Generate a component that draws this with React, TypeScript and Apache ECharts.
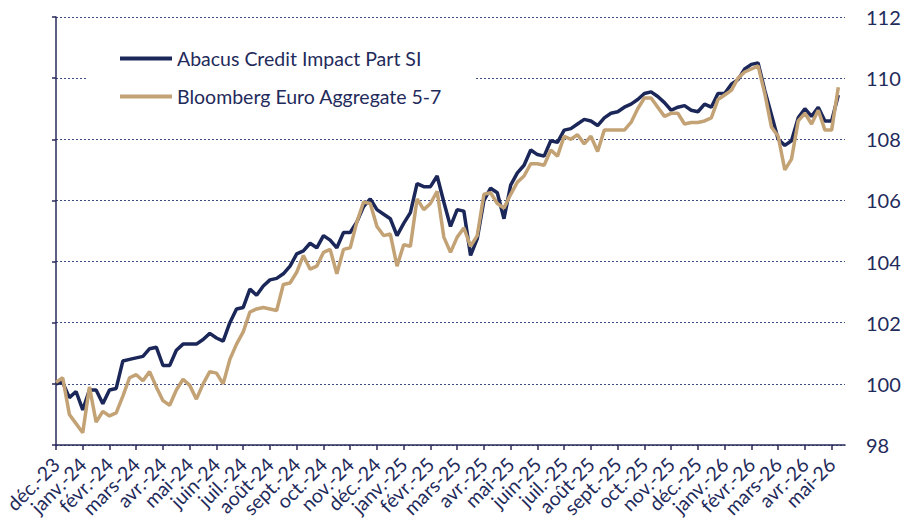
import React, { useEffect, useRef } from "react";
import * as echarts from "echarts";

const monthLabels = [
  "déc.-23", "janv.-24", "févr.-24", "mars-24", "avr.-24", "mai-24", "juin-24", "juil.-24",
  "août-24", "sept.-24", "oct.-24", "nov.-24", "déc.-24", "janv.-25", "févr.-25", "mars-25",
  "avr.-25", "mai-25", "juin-25", "juil.-25", "août-25", "sept.-25", "oct.-25", "nov.-25",
  "déc.-25", "janv.-26", "févr.-26", "mars-26", "avr.-26", "mai-26",
];

const yTicks = [98, 100, 102, 104, 106, 108, 110, 112];

// weekly samples (step = 0.25 month from déc.-23)
const STEP = 0.25;

const abacus = [
  100.0, 100.05, 99.55, 99.75, 99.15, 99.8, 99.8, 99.35, 99.8, 99.85,
  100.75, 100.8, 100.85, 100.9, 101.15, 101.2, 100.6, 100.6, 101.1, 101.3,
  101.3, 101.3, 101.45, 101.65, 101.5, 101.4, 102.0, 102.45, 102.5, 103.1,
  102.9, 103.2, 103.4, 103.45, 103.6, 103.85, 104.25, 104.35, 104.6, 104.45,
  104.85, 104.7, 104.45, 104.95, 104.95, 105.3, 105.8, 106.05, 105.7, 105.55,
  105.4, 104.85, 105.25, 105.6, 106.55, 106.45, 106.45, 106.8, 105.95, 105.15,
  105.7, 105.65, 104.2, 104.75, 106.0, 106.4, 106.25, 105.4, 106.5, 106.9,
  107.15, 107.65, 107.5, 107.45, 107.95, 107.9, 108.3, 108.35, 108.5, 108.65,
  108.6, 108.45, 108.7, 108.85, 108.9, 109.05, 109.15, 109.3, 109.5, 109.55,
  109.4, 109.2, 108.95, 109.05, 109.1, 108.95, 108.9, 109.15, 109.05, 109.5,
  109.5, 109.8, 109.95, 110.3, 110.45, 110.5, 109.6, 108.8, 108.0, 107.8,
  107.95, 108.7, 109.0, 108.75, 109.05, 108.6, 108.6, 109.45,
];

const bloomberg = [
  100.05, 100.2, 99.0, 98.7, 98.4, 99.9, 98.75, 99.1, 98.95, 99.05,
  99.6, 100.2, 100.3, 100.1, 100.4, 99.9, 99.45, 99.3, 99.8, 100.15,
  99.95, 99.5, 100.0, 100.4, 100.35, 100.0, 100.8, 101.3, 101.7, 102.35,
  102.45, 102.5, 102.45, 102.4, 103.25, 103.3, 103.65, 104.2, 103.75, 103.85,
  104.3, 104.4, 103.6, 104.4, 104.45, 105.3, 105.95, 105.9, 105.15, 104.85,
  104.9, 103.85, 104.55, 104.5, 106.05, 105.7, 105.9, 106.3, 104.8, 104.3,
  104.8, 105.1, 104.5, 104.85, 106.2, 106.25, 105.9, 105.75, 106.2, 106.6,
  106.8, 107.2, 107.2, 107.15, 107.65, 107.45, 108.1, 108.0, 108.15, 107.85,
  108.1, 107.6, 108.3, 108.3, 108.3, 108.3, 108.55, 109.0, 109.35, 109.35,
  109.05, 108.75, 108.85, 108.85, 108.5, 108.55, 108.55, 108.6, 108.7, 109.3,
  109.45, 109.6, 110.0, 110.2, 110.3, 110.4, 109.5, 108.4, 108.1, 107.0,
  107.35, 108.6, 108.85, 108.5, 108.95, 108.3, 108.3, 109.7,
];

const seriesNames = ["Abacus Credit Impact Part SI", "Bloomberg Euro Aggregate 5-7"];
const seriesColors = ["#1b2759", "#c3a275"];

const TEXT = "#1f2b5b";
const AXIS = "#2a2a5a";
const FONT = "Lato, 'Open Sans', sans-serif";

export default function App() {
  const ref = useRef<HTMLDivElement>(null);

  useEffect(() => {
    if (!ref.current) return;
    const chart = echarts.init(ref.current, undefined, { renderer: "svg" });
    const toPairs = (arr: number[]) => arr.map((v, i) => [i * STEP, v]);
    const tickVals = monthLabels.map((_, i) => i);
    const evenVals = tickVals.filter((i) => i % 2 === 0);
    const oddVals = tickVals.filter((i) => i % 2 === 1);

    const labelStyle = {
      rotate: 45,
      margin: 16,
      color: TEXT,
      fontSize: 19.5,
      fontFamily: FONT,
      showMinLabel: true,
      showMaxLabel: true,
      hideOverlap: false,
      formatter: (v: number) => monthLabels[Math.round(v)] ?? "",
    };

    chart.setOption({
      animation: false,
      backgroundColor: "#ffffff",
      textStyle: { fontFamily: FONT },
      grid: { left: 56, right: 66, top: 17, bottom: 83, containLabel: false },
      legend: {
        data: seriesNames,
        orient: "vertical",
        left: 88,
        top: 32,
        padding: [16, 32, 16, 32],
        backgroundColor: "#ffffff",
        icon: "rect",
        itemWidth: 52,
        itemHeight: 4,
        itemGap: 17,
        textStyle: { color: TEXT, fontSize: 19.5, fontFamily: FONT, lineHeight: 21 },
        z: 10,
      },
      xAxis: [
        {
          type: "value",
          position: "bottom",
          min: 0,
          max: 29.5,
          interval: 1,
          axisLine: { show: true, lineStyle: { color: AXIS, width: 1.5 } },
          axisTick: {
            show: true,
            customValues: tickVals,
            length: 5,
            lineStyle: { color: AXIS, width: 1.5 },
          },
          axisLabel: { ...labelStyle, customValues: evenVals },
          splitLine: { show: false },
        },
        {
          type: "value",
          position: "bottom",
          offset: 0,
          min: 0,
          max: 29.5,
          interval: 1,
          axisLine: { show: false },
          axisTick: { show: false },
          axisLabel: { ...labelStyle, customValues: oddVals },
          splitLine: { show: false },
        },
      ],
      yAxis: [
        {
          type: "value",
          position: "left",
          min: 98,
          max: 112,
          interval: 2,
          axisLine: { show: true, lineStyle: { color: AXIS, width: 1.5 } },
          axisTick: { show: true, length: 4, lineStyle: { color: AXIS, width: 1.5 } },
          axisLabel: { show: false },
          splitLine: {
            show: true,
            lineStyle: { color: "#3b4c86", type: [2, 2], width: 1 },
          },
        },
        {
          type: "value",
          position: "right",
          min: 98,
          max: 112,
          interval: 2,
          axisLine: { show: false },
          axisTick: { show: false },
          splitLine: { show: false },
          axisLabel: {
            show: true,
            margin: 21,
            color: TEXT,
            fontSize: 20,
            fontFamily: FONT,
            formatter: (v: number) => (yTicks.includes(v) ? String(v) : ""),
          },
        },
      ],
      series: [
        {
          name: seriesNames[0],
          type: "line",
          data: toPairs(abacus),
          xAxisIndex: 0,
          yAxisIndex: 0,
          symbol: "none",
          lineStyle: { color: seriesColors[0], width: 3.5 },
          itemStyle: { color: seriesColors[0] },
          z: 2,
        },
        {
          name: seriesNames[1],
          type: "line",
          data: toPairs(bloomberg),
          xAxisIndex: 0,
          yAxisIndex: 0,
          symbol: "none",
          lineStyle: { color: seriesColors[1], width: 3.5 },
          itemStyle: { color: seriesColors[1] },
          z: 3,
        },
      ],
    });

    return () => chart.dispose();
  }, []);

  return <div ref={ref} style={{ width: 911, height: 528, position: "absolute", left: 0, top: 0 }} />;
}
